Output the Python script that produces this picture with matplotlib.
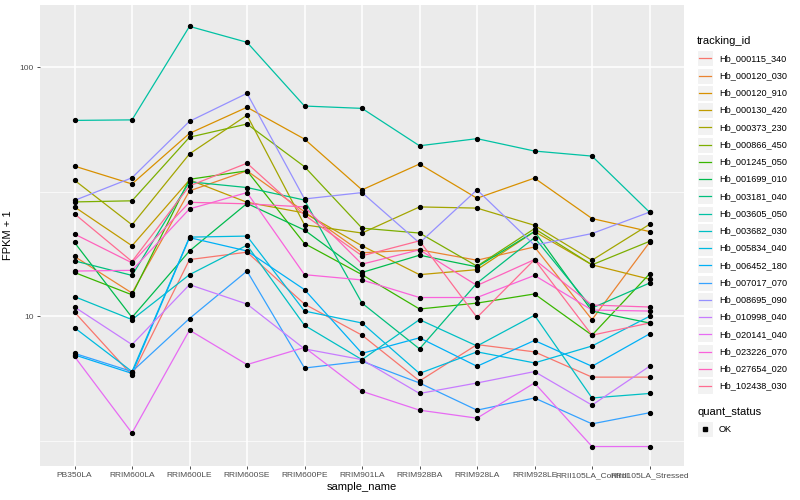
import matplotlib
matplotlib.use("Agg")
import matplotlib.pyplot as plt
from matplotlib.patches import Rectangle
import numpy as np

plt.rcParams['font.family'] = ['Liberation Sans', 'DejaVu Sans']

samples = ["PB350LA", "RRIM600LA", "RRIM600LE", "RRIM600SE", "RRIM600PE",
           "RRIM901LA", "RRIM928BA", "RRIM928LA", "RRIM928LE",
           "RRII105LA_Control", "RRII105LA_Stressed"]

tracking_ids = ["Hb_000115_340", "Hb_000120_030", "Hb_000120_910", "Hb_000130_420",
                "Hb_000373_230", "Hb_000866_450", "Hb_001245_050", "Hb_001699_010",
                "Hb_003181_040", "Hb_003605_050", "Hb_003682_030", "Hb_005834_040",
                "Hb_006452_180", "Hb_007017_070", "Hb_008695_090", "Hb_010998_040",
                "Hb_020141_040", "Hb_023226_070", "Hb_027654_020", "Hb_102438_030"]

# ggplot default hue palette, 20 levels
colors = ["#F8766D", "#EA8331", "#D89000", "#C09B00", "#A3A500", "#7CAE00",
          "#39B600", "#00BB4E", "#00BF7D", "#00C1A3", "#00BFC4", "#00BAE0",
          "#00B0F6", "#35A2FF", "#9590FF", "#C77CFF", "#E76BF3", "#FA62DB",
          "#FF62BC", "#FF6C91"]

# FPKM + 1 per sample
hb_000115_340 = [10.4, 5.8, 16.9, 18.1, 11.2, 8.4, 5.5, 7.7, 7.2, 5.7, 5.7]
hb_000120_030 = [17.4, 12.4, 31.9, 38.4, 26.3, 18.0, 18.5, 16.8, 19.0, 9.7, 19.8]
hb_000120_910 = [40.1, 34.0, 54.3, 69.1, 51.5, 32.2, 40.9, 29.8, 35.9, 24.7, 21.9]
hb_000130_420 = [27.5, 19.2, 35.3, 28.7, 26.0, 19.2, 14.7, 15.4, 21.9, 16.1, 14.1]
hb_000373_230 = [35.2, 23.3, 44.9, 64.2, 23.3, 21.6, 27.5, 27.2, 23.2, 16.8, 23.4]
hb_000866_450 = [28.8, 29.1, 52.4, 59.2, 39.9, 22.6, 21.6, 15.9, 22.5, 16.1, 20.0]
hb_001245_050 = [15.0, 12.2, 35.5, 38.4, 19.6, 14.7, 10.7, 11.3, 12.3, 8.4, 14.8]
hb_001699_010 = [19.8, 9.9, 18.3, 28.4, 22.2, 15.0, 17.6, 15.8, 21.9, 10.5, 9.4]
hb_003181_040 = [16.7, 14.6, 34.7, 32.9, 29.3, 11.3, 7.4, 13.6, 20.7, 10.8, 13.6]
hb_003605_050 = [61.2, 61.5, 146.0, 126.0, 69.9, 68.4, 48.4, 51.7, 46.1, 44.0, 26.2]
hb_003682_030 = [12.0, 9.7, 14.7, 19.3, 9.2, 6.7, 9.7, 7.6, 10.1, 4.7, 4.9]
hb_005834_040 = [9.0, 6.0, 20.8, 21.0, 10.5, 9.4, 5.9, 7.2, 6.5, 7.6, 10.0]
hb_006452_180 = [7.0, 5.9, 20.7, 18.3, 12.8, 7.1, 8.2, 6.3, 8.0, 6.3, 8.5]
hb_007017_070 = [7.1, 6.0, 9.8, 15.2, 6.2, 6.6, 5.4, 4.2, 4.7, 3.7, 4.1]
hb_008695_090 = [29.2, 36.0, 60.7, 78.6, 29.6, 31.4, 19.7, 32.2, 19.3, 21.5, 26.2]
hb_010998_040 = [10.9, 7.7, 13.4, 11.2, 7.4, 6.7, 4.9, 5.4, 6.0, 4.4, 6.3]
hb_020141_040 = [6.9, 3.4, 8.8, 6.4, 7.5, 5.0, 4.2, 3.9, 5.4, 3.0, 3.0]
hb_023226_070 = [15.2, 15.3, 27.0, 31.4, 14.7, 14.0, 11.9, 11.9, 14.6, 10.6, 10.5]
hb_027654_020 = [21.4, 16.4, 28.7, 28.3, 27.5, 16.2, 18.5, 13.3, 16.9, 11.1, 10.9]
hb_102438_030 = [25.8, 16.6, 33.4, 41.2, 25.5, 17.5, 20.1, 9.9, 16.9, 8.4, 9.4]

series = [hb_000115_340, hb_000120_030, hb_000120_910, hb_000130_420,
          hb_000373_230, hb_000866_450, hb_001245_050, hb_001699_010,
          hb_003181_040, hb_003605_050, hb_003682_030, hb_005834_040,
          hb_006452_180, hb_007017_070, hb_008695_090, hb_010998_040,
          hb_020141_040, hb_023226_070, hb_027654_020, hb_102438_030]

fig = plt.figure(figsize=(8, 5), dpi=100)
W, H = 800.0, 500.0
ax = fig.add_axes([40 / W, 1 - 466 / H, 644 / W, 461 / H])
ax.set_facecolor("#EBEBEB")
for s in ax.spines.values():
    s.set_visible(False)

x = np.arange(len(samples))
for vals, col in zip(series, colors):
    ax.plot(x, vals, color=col, lw=0.9, zorder=2)
for vals in series:
    ax.plot(x, vals, ls="none", marker="o", ms=2.8, color="black", zorder=3)

ax.set_yscale("log")
ax.set_ylim(2.506, 177.9)
ax.set_xlim(-0.6, len(samples) - 0.4)
ax.set_yticks([10, 100])
ax.set_yticklabels(["10", "100"])
ax.set_yticks([10 ** 0.5, 10 ** 1.5], minor=True)
ax.set_yticklabels([], minor=True)
ax.set_xticks(x)
ax.set_xticklabels(samples)
ax.set_axisbelow(True)
ax.grid(which="major", color="white", lw=1.1)
ax.grid(which="minor", axis="y", color="white", lw=0.5)
ax.tick_params(which="major", length=2.5, width=0.6, color="#333333",
               labelcolor="#4D4D4D", labelsize=6.0, pad=2)
ax.tick_params(which="minor", length=0)
ax.set_xlabel("sample_name", fontsize=8, labelpad=2)
ax.set_ylabel("FPKM + 1", fontsize=8, labelpad=5)

# legend drawn in pixel space, ggplot style
lax = fig.add_axes([0, 0, 1, 1])
lax.set_xlim(0, W)
lax.set_ylim(H, 0)
lax.axis("off")
lax.patch.set_alpha(0)

lax.text(697, 40.5, "tracking_id", fontsize=8, va="center", ha="left")
for i, (name, col) in enumerate(zip(tracking_ids, colors)):
    yc = 58.3 + 17.25 * i
    lax.add_patch(Rectangle((697, yc - 8), 16, 16, fc="#F2F2F2", ec="white", lw=0.8))
    lax.plot([699, 711], [yc, yc], color=col, lw=0.9)
    lax.text(719, yc, name, fontsize=6.6, va="center", ha="left")

lax.text(697, 412, "quant_status", fontsize=8, va="center", ha="left")
lax.add_patch(Rectangle((697, 421), 16, 16, fc="#F2F2F2", ec="white", lw=0.8))
lax.plot([705], [429], marker="s", ms=2.6, color="black")
lax.text(719, 429, "OK", fontsize=6.6, va="center", ha="left")

fig.savefig("out.png", dpi=100)
